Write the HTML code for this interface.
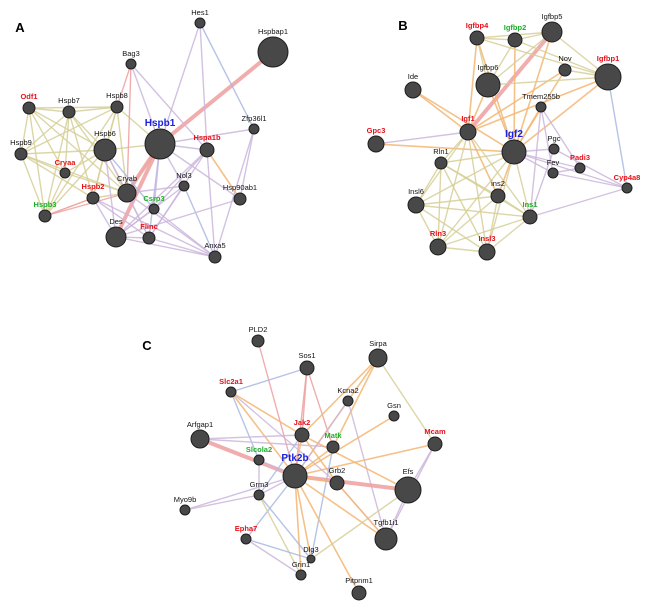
<!DOCTYPE html>
<html><head><meta charset="utf-8"><style>
html,body{margin:0;padding:0;background:#fff;}
svg{display:block}
text{font-family:"Liberation Sans",Arial,sans-serif;font-size:7.5px;text-anchor:middle}
.pl{font-size:13px;font-weight:bold;fill:#000}
</style></head><body>
<svg id="s" width="650" height="613" viewBox="0 0 650 613" xmlns="http://www.w3.org/2000/svg">
<g id="e"></g><g id="n"></g>
<text class="pl" x="20" y="32">A</text>
<text class="pl" x="403" y="30">B</text>
<text class="pl" x="147" y="350">C</text>
</svg>
<script>
var N={
Hes1:[200,23,5,'k'],Hspbap1:[273,52,15,'k'],Bag3:[131,64,5,'k'],Odf1:[29,108,6,'r'],Hspb7:[69,112,6,'k'],Hspb8:[117,107,6,'k'],Zfp36l1:[254,129,5,'k'],Hspb1:[160,144,15,'b'],Hspb6:[105,150,11,'k'],Hspa1b:[207,150,7,'r'],Hspb9:[21,154,6,'k'],Cryaa:[65,173,5,'r'],Nol3:[184,186,5,'k'],Cryab:[127,193,9,'k'],Hspb2:[93,198,6,'r'],Hsp90ab1:[240,199,6,'k'],Csrp3:[154,209,5,'g'],Hspb3:[45,216,6,'g'],Des:[116,237,10,'k'],Flinc:[149,238,6,'r'],Anxa5:[215,257,6,'k'],
Igfbp4:[477,38,7,'r'],Igfbp2:[515,40,7,'g'],Igfbp5:[552,32,10,'k'],Nov:[565,70,6,'k'],Igfbp1:[608,77,13,'r'],Igfbp6:[488,85,12,'k'],Ide:[413,90,8,'k'],Tmem255b:[541,107,5,'k'],Igf1:[468,132,8,'r'],Igf2:[514,152,12,'b'],Gpc3:[376,144,8,'r'],Pgc:[554,149,5,'k'],Rln1:[441,163,6,'k'],Padi3:[580,168,5,'r'],Fev:[553,173,5,'k'],Cyp4a8:[627,188,5,'r'],ins2:[498,196,7,'k'],Insl6:[416,205,8,'k'],Ins1:[530,217,7,'g'],Rln3:[438,247,8,'r'],Insl3:[487,252,8,'r'],
PLD2:[258,341,6,'k'],Sos1:[307,368,7,'k'],Sirpa:[378,358,9,'k'],Slc2a1:[231,392,5,'r'],Kcna2:[348,401,5,'k'],Gsn:[394,416,5,'k'],Jak2:[302,435,7,'r'],Arfgap1:[200,439,9,'k'],Matk:[333,447,6,'g'],Mcam:[435,444,7,'r'],Slcola2:[259,460,5,'g'],Ptk2b:[295,476,12,'b'],Grb2:[337,483,7,'k'],Efs:[408,490,13,'k'],Grm3:[259,495,5,'k'],Myo9b:[185,510,5,'k'],Epha7:[246,539,5,'r'],Tgfb1i1:[386,539,11,'k'],Dlg3:[311,559,4,'k'],Grin1:[301,575,5,'k'],Pitpnm1:[359,593,7,'k']};
var C={y:'#d6cf98',o:'#f3b673',p:'#ef9f9f',u:'#cbb6dc',b:'#a9b9e2'};
var E=[
'y Odf1 Hspb7','y Odf1 Hspb9','y Odf1 Hspb6','y Odf1 Hspb3','y Odf1 Cryab','y Hspb7 Hspb8','y Hspb7 Hspb6','y Hspb7 Hspb9','y Hspb7 Cryab','y Hspb7 Hspb3','y Hspb7 Hspb2','y Hspb8 Hspb6','y Hspb8 Cryab','y Hspb8 Hspb1','y Hspb8 Hspb2','y Hspb8 Hspb9','y Hspb9 Hspb6','y Hspb9 Hspb3','y Hspb9 Cryab','y Hspb6 Cryab','y Hspb6 Hspb1','y Hspb6 Hspb3','y Hspb6 Hspb2','y Cryaa Cryab','y Cryaa Hspb3','y Cryaa Hspb6','y Hspb2 Hspb3','y Hspb2 Cryab','y Hspb1 Cryab','y Hspb9 Cryaa','y Odf1 Cryaa','y Hspb3 Hspb8','y Odf1 Hspb8','y Hspb7 Cryaa','y Hspb9 Hspb2',
'p Hspb1 Hspbap1','p Bag3 Hspb8','p Bag3 Cryab','p Hspb3 Hspb2','p Hspb3 Cryab','p Hspb1 Des','p Hspb1 Cryab',
'u Hes1 Hspb1','u Hes1 Hspa1b','b Hes1 Zfp36l1','u Bag3 Hspb1','u Bag3 Hspa1b','u Zfp36l1 Hspb1','u Zfp36l1 Hsp90ab1','u Zfp36l1 Anxa5','u Hspa1b Des','u Hspa1b Flinc','u Hspa1b Csrp3','u Hspb1 Nol3','u Nol3 Des','b Nol3 Anxa5','u Nol3 Flinc','u Des Anxa5','u Des Flinc','u Des Csrp3','u Flinc Anxa5','u Csrp3 Anxa5','u Hsp90ab1 Des','u Hsp90ab1 Hspb1','u Hspb2 Des','u Hspb2 Flinc','u Cryab Anxa5','u Cryab Flinc','b Hspb1 Flinc','u Hspb6 Flinc','u Hspa1b Anxa5','o Hspa1b Hsp90ab1','u Hspb1 Hspa1b','b Hspb6 Csrp3','u Hspb2 Anxa5','u Cryab Nol3','u Hspb1 Csrp3','u Hspb6 Des',
'p Igf1 Igfbp5','o Ide Igf2','o Ide Igf1','o Gpc3 Igf2','u Gpc3 Igf1','o Igf1 Igfbp4','o Igf1 Igfbp1','o Igf2 Igfbp1','o Igf2 Igfbp5','o Igf2 Igfbp4','o Igf2 Igfbp6','o Igf2 Igfbp2','o Igf2 Nov','o Igf2 Tmem255b','o Igf1 Igfbp6','o Igf1 Nov','o Igf2 ins2','o Igf1 ins2','y Igfbp4 Igfbp2','y Igfbp4 Igfbp5','y Igfbp2 Igfbp5','y Igfbp5 Igfbp1','y Igfbp4 Igfbp1','y Igfbp2 Igfbp1','y Igfbp6 Igfbp5','y Igfbp6 Igfbp4','y Igfbp2 Igfbp6','y Nov Igfbp1','y Igfbp6 Igfbp1','b Igfbp1 Cyp4a8','u Igf2 Padi3','u Igf2 Pgc','u Igf2 Fev','u Igf2 Cyp4a8','u Tmem255b Padi3','u Tmem255b Fev','u Tmem255b Ins1','u Pgc Cyp4a8','u Fev Cyp4a8','u Ins1 Cyp4a8','u Padi3 Fev','u Pgc Ins1',
'y Igf1 Rln1','y Igf1 Insl6','y Igf1 Rln3','y Igf1 Insl3','y Igf1 Ins1','y Igf2 Rln1','y Igf2 Insl6','y Igf2 Rln3','y Igf2 Insl3','y Igf2 Ins1','y Rln1 ins2','y Rln1 Insl3','y Rln1 Ins1','y Rln1 Rln3','y Insl6 ins2','y Insl6 Ins1','y Insl6 Rln3','y Insl6 Insl3','y ins2 Ins1','y ins2 Rln3','y ins2 Insl3','y Rln3 Insl3','y Rln3 Ins1','y Insl3 Ins1','y Rln1 Insl6',
'p PLD2 Ptk2b','b Sos1 Slc2a1','p Sos1 Jak2','p Sos1 Matk','p Sos1 Ptk2b','o Sirpa Ptk2b','o Sirpa Jak2','o Sirpa Matk','y Sirpa Mcam','o Slc2a1 Ptk2b','o Slc2a1 Jak2','u Slc2a1 Grb2','b Slc2a1 Slcola2','u Kcna2 Ptk2b','u Kcna2 Tgfb1i1','o Gsn Ptk2b','p Arfgap1 Ptk2b','u Arfgap1 Matk','u Arfgap1 Jak2','o Mcam Ptk2b','u Mcam Efs','u Mcam Tgfb1i1','o Jak2 Ptk2b','o Jak2 Grb2','o Jak2 Efs','o Matk Ptk2b','b Matk Dlg3','p Ptk2b Efs','o Ptk2b Tgfb1i1','o Ptk2b Pitpnm1','o Ptk2b Dlg3','o Ptk2b Grin1','b Ptk2b Epha7','u Ptk2b Myo9b','u Grm3 Myo9b','u Ptk2b Grm3','b Grm3 Dlg3','y Grm3 Grin1','u Slcola2 Ptk2b','u Slcola2 Grm3','b Epha7 Dlg3','u Epha7 Grin1','y Dlg3 Efs','o Grb2 Ptk2b','u Efs Tgfb1i1','u Grb2 Tgfb1i1','o Grb2 Tgfb1i1','b Jak2 Grm3'];
var eg=document.getElementById('e'),ng=document.getElementById('n'),ns='http://www.w3.org/2000/svg';
E.forEach(function(s){var a=s.split(' '),p=N[a[1]],q=N[a[2]];if(!p||!q)return;
var l=document.createElementNS(ns,'line');l.setAttribute('x1',p[0]);l.setAttribute('y1',p[1]);l.setAttribute('x2',q[0]);l.setAttribute('y2',q[1]);
l.setAttribute('stroke',C[a[0]]);var w=(a[0]=='p'&&(a[1]=='Hspb1'||a[1]=='Igf1'||a[2]=='Efs'||a[1]=='Arfgap1'))?4:(a[0]=='o'?1.6:1.4);
l.setAttribute('stroke-width',w);l.setAttribute('stroke-opacity',0.85);eg.appendChild(l);});
var col={k:'#111',r:'#e8101a',g:'#1fae2b',b:'#1a22e0'};
for(var k in N){var d=N[k];var c=document.createElementNS(ns,'circle');c.setAttribute('cx',d[0]);c.setAttribute('cy',d[1]);c.setAttribute('r',d[2]);
c.setAttribute('fill','#484848');c.setAttribute('stroke','#1e1e1e');c.setAttribute('stroke-width','1');ng.appendChild(c);
var t=document.createElementNS(ns,'text');t.setAttribute('x',d[0]);t.setAttribute('y',d[1]-d[2]-3);
var st='fill:'+col[d[3]]+';';
if(d[3]=='b'){st+='font-size:10px;font-weight:bold;';}
else if(d[3]!='k'){st+='font-weight:bold;';}
t.setAttribute('style',st);
t.textContent=k;ng.appendChild(t);}
</script>
</body></html>
